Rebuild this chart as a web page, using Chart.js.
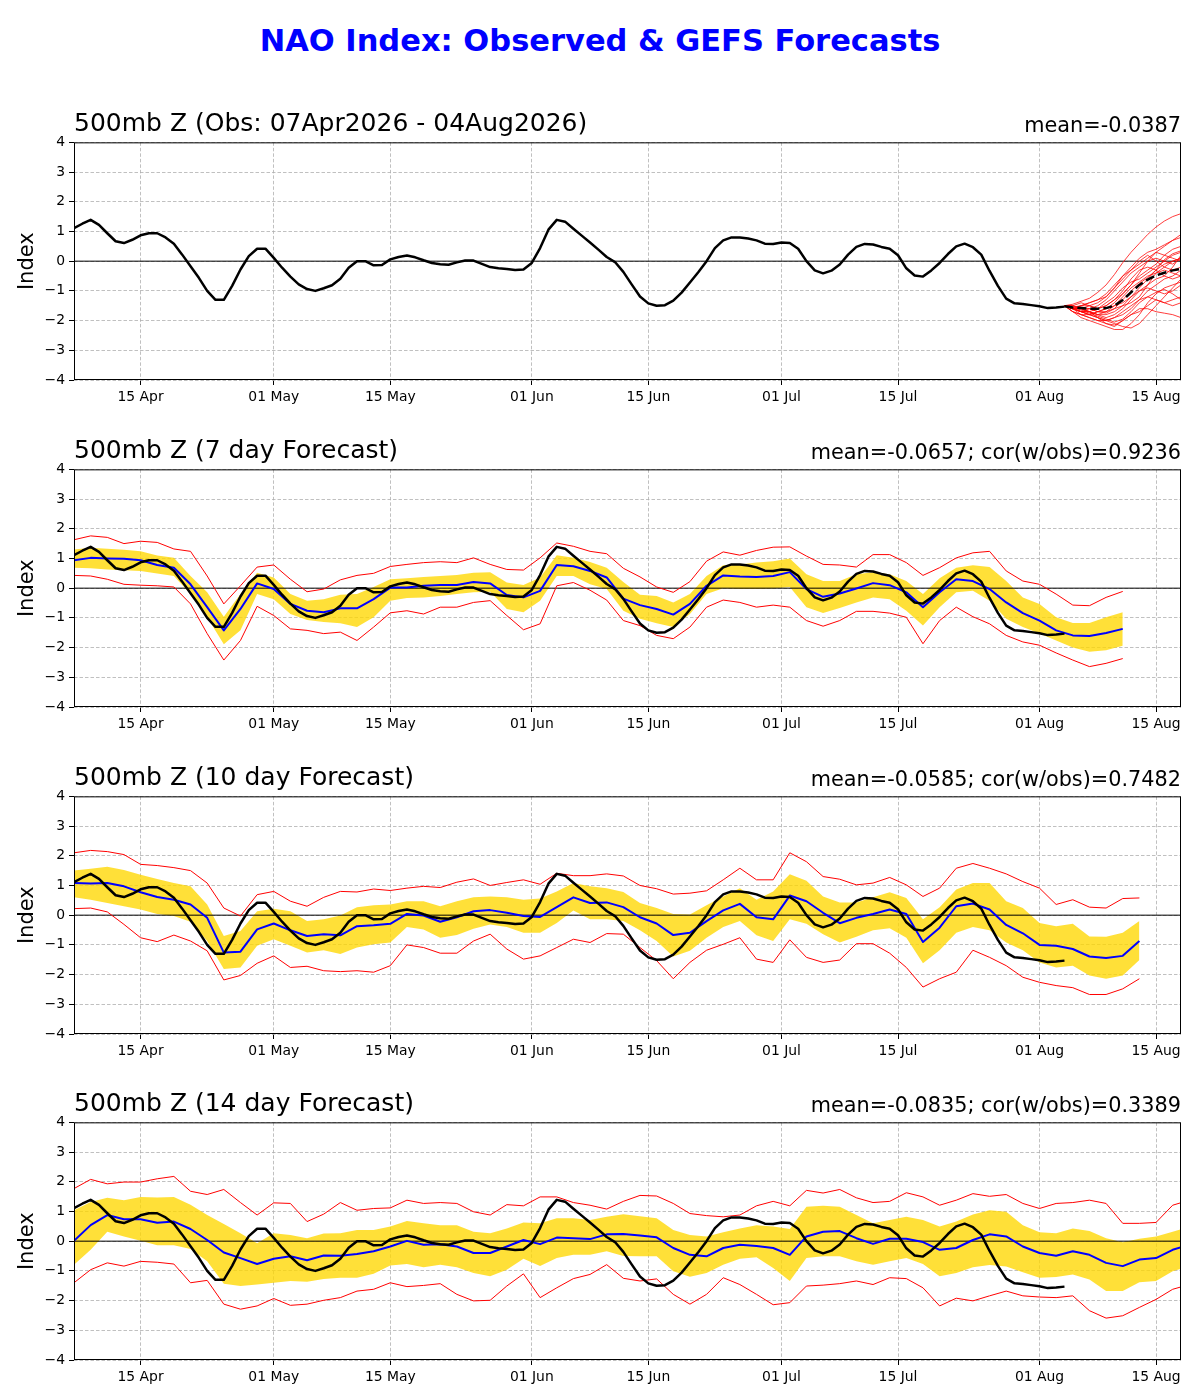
<!DOCTYPE html>
<html>
<head>
<meta charset="utf-8">
<title>NAO Index: Observed & GEFS Forecasts</title>
<script src="https://cdn.jsdelivr.net/npm/chart.js@4.4.1/dist/chart.umd.min.js"></script>
<style>
  body { margin: 0; background: #fff; width: 1200px; height: 1400px; position: relative; overflow: hidden;
         font-family: "DejaVu Sans", sans-serif; }
  .main-title { position: absolute; left: 0; width: 1200px; top: 41px; text-align: center;
                font-weight: bold; font-size: 30.5px; line-height: 0; color: #0000ff; }
  .ptitle-l { position: absolute; left: 74px; font-size: 25px; line-height: 0; white-space: nowrap; color: #000; }
  .ptitle-r { position: absolute; right: 19px; font-size: 20.8px; line-height: 0; white-space: nowrap; color: #000; }
  canvas { position: absolute; left: 0; }
</style>
</head>
<body>
<div class="main-title">NAO Index: Observed &amp; GEFS Forecasts</div>

<script>
// ---- axis ----
const START_DATE = '2026-04-07';
const END_DATE = '2026-08-18';
const ENS_START_DATE = '2026-08-04';
const TICK_DATES = ['2026-04-15', '2026-05-01', '2026-05-15', '2026-06-01', '2026-06-15',
                    '2026-07-01', '2026-07-15', '2026-08-01', '2026-08-15'];
const TICK_LABELS = ['15 Apr', '01 May', '15 May', '01 Jun', '15 Jun', '01 Jul', '15 Jul', '01 Aug', '15 Aug'];
const FC_STEP = 2; // forecast values are read every 2 days

// ---- observed NAO, daily from 07 Apr ----
const OBS = [1.11, 1.26, 1.39, 1.22, 0.94, 0.67, 0.61, 0.72, 0.87, 0.94,
  0.94, 0.8, 0.59, 0.22, -0.17, -0.56, -1.0, -1.3, -1.3, -0.83,
  -0.28, 0.17, 0.42, 0.42, 0.11, -0.22, -0.52, -0.78, -0.94, -1.0,
  -0.91, -0.81, -0.59, -0.22, 0.0, 0.0, -0.14, -0.13, 0.06, 0.14,
  0.19, 0.13, 0.03, -0.06, -0.1, -0.12, -0.04, 0.02, 0.02, -0.09,
  -0.2, -0.24, -0.26, -0.3, -0.28, -0.06, 0.44, 1.06, 1.39, 1.33,
  1.09, 0.86, 0.63, 0.39, 0.14, -0.03, -0.36, -0.78, -1.19, -1.42,
  -1.5, -1.48, -1.33, -1.06, -0.72, -0.37, 0.0, 0.44, 0.7, 0.8,
  0.8, 0.76, 0.7, 0.59, 0.58, 0.63, 0.61, 0.42, 0.0, -0.31,
  -0.41, -0.32, -0.11, 0.22, 0.48, 0.58, 0.56, 0.48, 0.42, 0.2,
  -0.24, -0.48, -0.52, -0.31, -0.06, 0.24, 0.5, 0.59, 0.47, 0.22,
  -0.33, -0.83, -1.26, -1.42, -1.44, -1.48, -1.52, -1.58, -1.56, -1.53];

// ---- GEFS members and ensemble mean, daily from 04 Aug ----
const GEFS_MEAN = [-1.52, -1.56, -1.58, -1.6, -1.6, -1.58, -1.5, -1.31, -1.05, -0.8, -0.62, -0.48, -0.39, -0.31, -0.26];
const GEFS_MEMBERS = [
  [-1.5, -1.45, -1.35, -1.25, -1.05, -0.8, -0.45, -0.05, 0.3, 0.6, 0.9, 1.15, 1.35, 1.5, 1.6, 1.7],
  [-1.5, -1.55, -1.5, -1.4, -1.3, -1.2, -0.9, -0.5, -0.2, 0.1, 0.3, 0.4, 0.55, 0.7, 0.9, 1.1],
  [-1.5, -1.6, -1.7, -1.8, -1.9, -2.0, -2.1, -2.2, -2.25, -2.1, -1.8, -1.5, -1.2, -0.9, -0.6, -0.4],
  [-1.5, -1.6, -1.7, -1.6, -1.5, -1.3, -1.0, -0.7, -0.4, -0.2, 0.0, 0.1, 0.0, -0.1, 0.1, 0.3],
  [-1.5, -1.5, -1.6, -1.7, -1.8, -1.9, -1.8, -1.6, -1.3, -1.0, -0.8, -0.6, -0.5, -0.2, 0.2, 0.5],
  [-1.5, -1.6, -1.5, -1.5, -1.6, -1.4, -1.2, -0.9, -0.7, -0.6, -0.4, -0.2, 0.0, 0.2, 0.3, 0.4],
  [-1.5, -1.7, -1.8, -1.9, -2.0, -2.1, -2.15, -2.0, -1.8, -1.6, -1.6, -1.7, -1.75, -1.8, -1.9, -2.0],
  [-1.5, -1.6, -1.6, -1.7, -1.8, -1.8, -1.7, -1.5, -1.2, -0.9, -0.6, -0.3, -0.1, 0.0, 0.1, 0.2],
  [-1.5, -1.5, -1.4, -1.5, -1.6, -1.5, -1.3, -1.1, -0.8, -0.4, 0.0, 0.3, 0.2, 0.1, 0.0, -0.1],
  [-1.5, -1.7, -1.9, -2.0, -2.1, -2.2, -2.3, -2.3, -2.1, -1.8, -1.4, -1.1, -0.9, -0.8, -0.7, -0.5],
  [-1.5, -1.6, -1.7, -1.8, -1.7, -1.6, -1.5, -1.4, -1.2, -1.0, -0.9, -1.0, -1.1, -1.0, -0.8, -0.6],
  [-1.5, -1.6, -1.6, -1.5, -1.4, -1.2, -0.9, -0.6, -0.3, -0.1, 0.1, 0.3, 0.5, 0.7, 0.8, 0.9],
  [-1.5, -1.6, -1.7, -1.7, -1.9, -2.0, -1.9, -1.7, -1.5, -1.3, -1.2, -1.3, -1.4, -1.3, -1.2, -1.0],
  [-1.5, -1.6, -1.7, -1.7, -1.8, -1.7, -1.5, -1.2, -0.9, -0.7, -0.5, -0.4, -0.3, -0.4, -0.5, -0.4],
  [-1.5, -1.5, -1.6, -1.6, -1.7, -1.6, -1.4, -1.1, -0.8, -0.5, -0.3, -0.1, 0.2, 0.4, 0.5, 0.6],
  [-1.5, -1.6, -1.8, -1.9, -2.0, -2.0, -1.9, -1.8, -1.6, -1.3, -1.0, -0.8, -0.6, -0.5, -0.3, -0.2],
  [-1.5, -1.6, -1.6, -1.7, -1.6, -1.5, -1.3, -1.0, -0.6, -0.3, -0.2, -0.3, -0.5, -0.6, -0.5, -0.3],
  [-1.5, -1.7, -1.8, -1.8, -1.7, -1.7, -1.6, -1.5, -1.4, -1.2, -0.8, -0.4, -0.2, 0.0, 0.1, 0.1],
  [-1.5, -1.6, -1.7, -1.8, -1.9, -2.1, -2.2, -2.0, -1.8, -1.7, -1.5, -1.3, -1.4, -1.5, -1.4, -1.3],
  [-1.5, -1.6, -1.5, -1.4, -1.3, -1.1, -0.8, -0.5, -0.3, 0.0, 0.2, 0.0, -0.2, -0.3, -0.2, 0.0],
  [-1.5, -1.55, -1.65, -1.75, -1.85, -1.95, -2.05, -1.95, -1.7, -1.4, -1.2, -1.05, -0.95, -1.1, -1.3, -1.5],
  [-1.5, -1.6, -1.55, -1.6, -1.7, -1.75, -1.6, -1.3, -1.0, -0.75, -0.55, -0.3, 0.05, 0.25, 0.35, 0.45]
];

// ---- 7 day forecast (every 2 days from 07 Apr) ----
const MEAN_7 = [0.94, 1.02, 1.0, 0.99, 0.94, 0.78, 0.69, 0.13, -0.64, -1.42, -0.7, 0.16, -0.03, -0.53, -0.76, -0.81,
  -0.68, -0.68, -0.37, 0.02, 0.02, 0.08, 0.11, 0.11, 0.21, 0.16, -0.23, -0.31, -0.09, 0.78, 0.74, 0.58,
  0.36, -0.35, -0.57, -0.7, -0.89, -0.53, 0.08, 0.43, 0.39, 0.38, 0.41, 0.54, -0.03, -0.29, -0.18, -0.01,
  0.17, 0.1, -0.14, -0.64, -0.14, 0.3, 0.24, -0.03, -0.48, -0.84, -1.09, -1.42, -1.59, -1.61, -1.51, -1.37];
const UPPER_7 = [1.3, 1.36, 1.33, 1.29, 1.24, 1.1, 1.02, 0.41, -0.14, -0.96, -0.2, 0.52, 0.36, -0.2, -0.42, -0.37,
  -0.22, -0.2, 0.04, 0.3, 0.33, 0.38, 0.41, 0.44, 0.52, 0.54, 0.19, 0.11, 0.36, 1.11, 1.02, 0.88,
  0.69, 0.21, -0.22, -0.26, -0.48, -0.2, 0.41, 0.77, 0.8, 0.86, 0.91, 1.0, 0.47, 0.24, 0.24, 0.47,
  0.54, 0.47, 0.24, -0.2, 0.33, 0.69, 0.77, 0.71, 0.24, -0.31, -0.53, -0.98, -1.17, -1.17, -0.98, -0.81];
const LOWER_7 = [0.69, 0.67, 0.63, 0.6, 0.58, 0.49, 0.41, -0.2, -0.98, -1.89, -1.42, -0.2, -0.37, -0.87, -1.07, -1.14,
  -1.18, -1.31, -0.98, -0.42, -0.33, -0.31, -0.26, -0.2, -0.14, -0.12, -0.7, -0.81, -0.42, 0.41, 0.41, 0.13,
  -0.03, -0.76, -1.03, -1.18, -1.31, -0.87, -0.2, 0.0, -0.03, -0.03, -0.01, 0.04, -0.64, -0.84, -0.67, -0.48,
  -0.31, -0.37, -0.76, -1.26, -0.64, -0.14, -0.09, -0.42, -1.03, -1.31, -1.53, -1.76, -2.0, -2.14, -2.09, -1.94];
const MAX_7 = [1.63, 1.76, 1.71, 1.5, 1.58, 1.54, 1.32, 1.24, 0.41, -0.53, 0.08, 0.71, 0.78, 0.3, -0.12, -0.03,
  0.28, 0.43, 0.5, 0.73, 0.8, 0.86, 0.89, 0.86, 1.02, 0.8, 0.63, 0.61, 1.02, 1.52, 1.41, 1.24,
  1.16, 0.67, 0.38, 0.04, -0.14, 0.22, 0.91, 1.22, 1.11, 1.27, 1.38, 1.39, 1.08, 0.8, 0.78, 0.71,
  1.13, 1.13, 0.86, 0.43, 0.69, 1.02, 1.19, 1.24, 0.58, 0.24, 0.13, -0.2, -0.57, -0.59, -0.31, -0.11];
const MIN_7 = [0.43, 0.41, 0.3, 0.13, 0.1, 0.08, 0.04, -0.53, -1.53, -2.42, -1.76, -0.61, -0.92, -1.37, -1.42, -1.53,
  -1.48, -1.76, -1.31, -0.83, -0.76, -0.87, -0.64, -0.64, -0.48, -0.42, -0.92, -1.4, -1.2, 0.08, 0.19, -0.07,
  -0.4, -1.09, -1.26, -1.59, -1.7, -1.31, -0.64, -0.4, -0.48, -0.64, -0.57, -0.64, -1.09, -1.28, -1.09, -0.78,
  -0.78, -0.84, -0.98, -1.87, -1.09, -0.64, -0.96, -1.2, -1.59, -1.81, -1.92, -2.18, -2.42, -2.64, -2.53, -2.37];

// ---- 10 day forecast ----
const MEAN_10 = [1.08, 1.07, 1.08, 0.97, 0.77, 0.61, 0.52, 0.36, -0.09, -1.26, -1.23, -0.48, -0.28, -0.51, -0.7, -0.64,
  -0.68, -0.37, -0.34, -0.29, 0.04, -0.01, -0.22, -0.07, 0.13, 0.17, 0.08, -0.03, -0.06, 0.27, 0.6, 0.41,
  0.43, 0.27, -0.07, -0.28, -0.67, -0.59, -0.2, 0.16, 0.38, -0.07, -0.14, 0.66, 0.47, 0.08, -0.27, -0.09,
  0.04, 0.19, 0.04, -0.9, -0.42, 0.3, 0.39, 0.19, -0.33, -0.61, -1.0, -1.03, -1.14, -1.39, -1.44, -1.37, -0.87];
const UPPER_10 = [1.5, 1.56, 1.63, 1.52, 1.36, 1.22, 1.08, 0.97, 0.36, -0.7, -0.53, 0.13, 0.22, 0.13, -0.2, -0.14,
  -0.01, 0.27, 0.33, 0.36, 0.47, 0.47, 0.3, 0.47, 0.6, 0.63, 0.6, 0.52, 0.56, 0.8, 1.08, 0.97,
  0.91, 0.78, 0.41, 0.24, 0.04, 0.02, 0.33, 0.63, 0.91, 0.52, 0.8, 1.38, 1.16, 0.63, 0.43, 0.43,
  0.6, 0.77, 0.58, -0.14, 0.27, 0.86, 1.08, 1.08, 0.47, 0.24, -0.26, -0.37, -0.29, -0.72, -0.73, -0.59, -0.2];
const LOWER_10 = [0.6, 0.52, 0.41, 0.3, 0.19, 0.04, -0.03, -0.22, -0.87, -1.81, -1.76, -1.03, -0.81, -1.03, -1.26, -1.18,
  -1.31, -1.09, -0.98, -0.92, -0.4, -0.48, -0.76, -0.67, -0.46, -0.31, -0.4, -0.59, -0.59, -0.26, 0.16, -0.14,
  -0.14, -0.2, -0.51, -0.87, -1.39, -1.2, -0.76, -0.4, -0.2, -0.68, -0.87, -0.14, -0.29, -0.64, -0.92, -0.73,
  -0.51, -0.44, -0.76, -1.62, -1.18, -0.59, -0.4, -0.51, -0.92, -1.18, -1.59, -1.76, -1.7, -2.03, -2.14, -2.03, -1.51];
const MAX_10 = [2.1, 2.18, 2.14, 2.04, 1.71, 1.67, 1.6, 1.5, 1.08, 0.24, -0.03, 0.69, 0.8, 0.47, 0.3, 0.6,
  0.8, 0.78, 0.88, 0.83, 0.91, 0.97, 0.93, 1.11, 1.22, 1.0, 1.1, 1.19, 1.04, 1.41, 1.33, 1.33,
  1.39, 1.32, 1.0, 0.89, 0.71, 0.74, 0.82, 1.19, 1.58, 1.19, 1.19, 2.1, 1.8, 1.3, 1.21, 1.02,
  1.08, 1.27, 1.02, 0.63, 0.91, 1.58, 1.74, 1.58, 1.39, 1.13, 0.91, 0.36, 0.52, 0.27, 0.24, 0.56, 0.58];
const MIN_10 = [0.22, 0.24, 0.11, -0.31, -0.76, -0.89, -0.67, -0.87, -1.2, -2.18, -2.03, -1.62, -1.37, -1.76, -1.72, -1.87,
  -1.9, -1.87, -1.92, -1.7, -1.0, -1.09, -1.28, -1.28, -0.87, -0.64, -1.14, -1.48, -1.37, -1.09, -0.81, -0.92,
  -0.62, -0.64, -1.09, -1.53, -2.14, -1.59, -1.18, -0.98, -0.76, -1.48, -1.59, -0.83, -1.42, -1.59, -1.51, -0.96,
  -0.96, -1.28, -1.76, -2.42, -2.14, -1.92, -1.18, -1.42, -1.7, -2.09, -2.26, -2.37, -2.44, -2.67, -2.67, -2.48, -2.14];

// ---- 14 day forecast ----
const MEAN_14 = [0.01, 0.54, 0.88, 0.74, 0.74, 0.62, 0.66, 0.41, 0.04, -0.38, -0.57, -0.77, -0.59, -0.51, -0.64, -0.48,
  -0.49, -0.43, -0.34, -0.18, 0.01, -0.12, -0.1, -0.18, -0.4, -0.4, -0.18, 0.04, -0.1, 0.12, 0.1, 0.07,
  0.23, 0.24, 0.19, 0.13, -0.23, -0.46, -0.51, -0.23, -0.12, -0.16, -0.23, -0.46, 0.16, 0.32, 0.34, 0.1,
  -0.09, 0.08, 0.08, -0.03, -0.29, -0.23, 0.04, 0.23, 0.16, -0.18, -0.4, -0.49, -0.34, -0.46, -0.73, -0.84,
  -0.62, -0.57, -0.29, -0.12];
const UPPER_14 = [1.04, 1.32, 1.46, 1.38, 1.49, 1.47, 1.49, 1.23, 0.88, 0.58, 0.27, -0.07, 0.27, 0.21, 0.1, 0.26,
  0.27, 0.38, 0.38, 0.49, 0.68, 0.6, 0.54, 0.54, 0.32, 0.27, 0.43, 0.63, 0.6, 0.77, 0.77, 0.71,
  0.82, 0.91, 0.84, 0.77, 0.38, 0.21, 0.16, 0.3, 0.43, 0.54, 0.49, 0.41, 1.16, 1.19, 1.16, 0.88,
  0.6, 0.71, 0.82, 0.71, 0.49, 0.66, 0.9, 1.04, 0.99, 0.54, 0.3, 0.27, 0.43, 0.34, 0.1, -0.04,
  0.08, 0.16, 0.32, 0.49];
const LOWER_14 = [-0.79, -0.29, 0.32, 0.16, 0.01, -0.14, -0.14, -0.26, -0.68, -1.43, -1.51, -1.46, -1.4, -1.34, -1.37, -1.27,
  -1.23, -1.23, -1.1, -0.82, -0.77, -0.88, -0.79, -0.88, -1.07, -1.18, -0.96, -0.59, -0.84, -0.57, -0.46, -0.46,
  -0.34, -0.5, -0.51, -0.51, -1.01, -1.2, -1.07, -0.79, -0.59, -0.54, -0.9, -1.34, -0.57, -0.51, -0.51, -0.68,
  -0.79, -0.68, -0.57, -0.77, -1.18, -1.07, -0.88, -0.8, -0.85, -1.05, -1.23, -1.21, -1.12, -1.29, -1.68, -1.68,
  -1.38, -1.34, -1.01, -0.84];
const MAX_14 = [1.77, 2.08, 1.93, 1.99, 1.99, 2.1, 2.18, 1.68, 1.57, 1.74, 1.3, 0.88, 1.29, 1.27, 0.66, 0.91,
  1.3, 1.04, 1.1, 1.12, 1.38, 1.27, 1.3, 1.27, 0.99, 0.88, 1.23, 1.19, 1.49, 1.49, 1.3, 1.21,
  1.08, 1.34, 1.54, 1.52, 1.27, 0.93, 0.86, 0.82, 0.88, 1.19, 1.34, 1.19, 1.71, 1.62, 1.74, 1.46,
  1.3, 1.34, 1.63, 1.49, 1.21, 1.38, 1.6, 1.51, 1.57, 1.27, 1.1, 1.27, 1.3, 1.38, 1.27, 0.6,
  0.6, 0.63, 1.21, 1.38];
const MIN_14 = [-1.4, -0.96, -0.73, -0.84, -0.68, -0.71, -0.77, -1.4, -1.32, -2.12, -2.29, -2.18, -1.93, -2.16, -2.12, -1.99,
  -1.9, -1.68, -1.62, -1.4, -1.53, -1.49, -1.43, -1.79, -2.01, -1.99, -1.51, -1.1, -1.9, -1.57, -1.26, -1.12,
  -0.79, -1.25, -1.34, -1.27, -1.79, -2.12, -1.79, -1.23, -1.46, -1.79, -2.14, -2.07, -1.51, -1.48, -1.43, -1.34,
  -1.46, -1.23, -1.26, -1.57, -2.18, -1.92, -2.01, -1.84, -1.68, -1.84, -1.88, -1.9, -1.84, -2.34, -2.59, -2.51,
  -2.23, -1.96, -1.62, -1.46];

// ---- helpers ----
const dayOf = s => (Date.parse(s + 'T00:00:00Z') - Date.parse(START_DATE + 'T00:00:00Z')) / 86400000;
const X_MAX = dayOf(END_DATE);
const TICK_DAYS = TICK_DATES.map(dayOf);
const ENS_START = dayOf(ENS_START_DATE);
const YELLOW = 'rgba(255, 215, 0, 0.78)';
const GRID = '#b0b0b0';

const seriesFrom = (arr, x0, step) => arr.map((v, i) => ({ x: x0 + i * step, y: v }));

function line(data, color, width, extra) {
  return Object.assign({ data, borderColor: color, borderWidth: width, pointRadius: 0,
    fill: false, tension: 0, borderJoinStyle: 'round' }, extra || {});
}
const zeroLine = () => line([{ x: 0, y: 0 }, { x: X_MAX, y: 0 }], '#000', 1);

const framePlugin = {
  id: 'frame',
  afterDatasetsDraw(chart) {
    const { ctx, chartArea: a } = chart;
    ctx.save();
    ctx.strokeStyle = '#000';
    ctx.lineWidth = 1;
    ctx.strokeRect(a.left + 0.5, a.top + 0.5, a.right - a.left - 1, a.bottom - a.top - 1);
    ctx.restore();
  }
};

function makeChart(top, datasets) {
  const cv = document.createElement('canvas');
  cv.width = 1200; cv.height = 290;
  cv.style.top = (top - 10) + 'px';
  document.body.appendChild(cv);
  return new Chart(cv, {
    type: 'line',
    data: { datasets },
    options: {
      responsive: false,
      animation: false,
      devicePixelRatio: 1,
      layout: { padding: { top: 10, right: 19, left: 0, bottom: 0 } },
      plugins: { legend: { display: false }, tooltip: { enabled: false } },
      scales: {
        x: {
          type: 'linear', min: 0, max: X_MAX,
          afterBuildTicks: s => { s.ticks = TICK_DAYS.map(v => ({ value: v })); },
          afterFit: s => { s.height = 40; },
          ticks: { callback: (v, i) => TICK_LABELS[i], color: '#000', padding: 4,
                   font: { family: 'DejaVu Sans', size: 13.9 }, maxRotation: 0, autoSkip: false },
          grid: { color: GRID, lineWidth: 0.8, tickColor: '#000', tickLength: 5, tickWidth: 1 },
          border: { display: false, dash: [3.5, 2] }
        },
        y: {
          min: -4, max: 4,
          afterFit: s => { s.width = 74; },
          ticks: { stepSize: 1, color: '#000', padding: 4, font: { family: 'DejaVu Sans', size: 13.9 },
                   callback: v => (v < 0 ? '\u2212' + Math.abs(v) : String(v)) },
          grid: { color: GRID, lineWidth: 0.8, tickColor: '#000', tickLength: 5, tickWidth: 1 },
          border: { display: false, dash: [3.5, 2] },
          title: { display: true, text: 'Index', color: '#000', padding: { top: 15, bottom: 0 },
                   font: { family: 'DejaVu Sans', size: 21 } }
        }
      }
    },
    plugins: [framePlugin]
  });
}

function addTitles(top, left, right) {
  const l = document.createElement('div');
  l.className = 'ptitle-l'; l.textContent = left; l.style.top = (top - 16.9) + 'px';
  const r = document.createElement('div');
  r.className = 'ptitle-r'; r.textContent = right; r.style.top = (top - 15.3) + 'px';
  document.body.appendChild(l); document.body.appendChild(r);
}

const obsSeries = () => seriesFrom(OBS, 0, 1);

function forecastSets(mean, upper, lower, mx, mn) {
  return [
    line(obsSeries(), '#000', 2.5),
    line(seriesFrom(mean, 0, FC_STEP), '#0000ff', 2),
    line(seriesFrom(mx, 0, FC_STEP), '#ff0000', 1),
    line(seriesFrom(mn, 0, FC_STEP), '#ff0000', 1),
    zeroLine(),
    line(seriesFrom(upper, 0, FC_STEP), YELLOW, 0, { fill: '+1', backgroundColor: YELLOW }),
    line(seriesFrom(lower, 0, FC_STEP), YELLOW, 0)
  ];
}

// ---- panel 1: observed + GEFS members ----
const obsSets = [
  line(seriesFrom(GEFS_MEAN, ENS_START, 1), '#000', 2.5, { borderDash: [9, 4] }),
  line(obsSeries(), '#000', 2.5)
].concat(GEFS_MEMBERS.map(m => line(seriesFrom(m, ENS_START, 1), 'rgba(255,0,0,0.85)', 0.9)))
 .concat([zeroLine()]);

const PANEL_TOPS = [140, 467, 794, 1120];
makeChart(PANEL_TOPS[0], obsSets);
addTitles(PANEL_TOPS[0], '500mb Z (Obs: 07Apr2026 - 04Aug2026)', 'mean=-0.0387');

makeChart(PANEL_TOPS[1], forecastSets(MEAN_7, UPPER_7, LOWER_7, MAX_7, MIN_7));
addTitles(PANEL_TOPS[1], '500mb Z (7 day Forecast)', 'mean=-0.0657; cor(w/obs)=0.9236');

makeChart(PANEL_TOPS[2], forecastSets(MEAN_10, UPPER_10, LOWER_10, MAX_10, MIN_10));
addTitles(PANEL_TOPS[2], '500mb Z (10 day Forecast)', 'mean=-0.0585; cor(w/obs)=0.7482');

makeChart(PANEL_TOPS[3], forecastSets(MEAN_14, UPPER_14, LOWER_14, MAX_14, MIN_14));
addTitles(PANEL_TOPS[3], '500mb Z (14 day Forecast)', 'mean=-0.0835; cor(w/obs)=0.3389');
</script>
</body>
</html>
